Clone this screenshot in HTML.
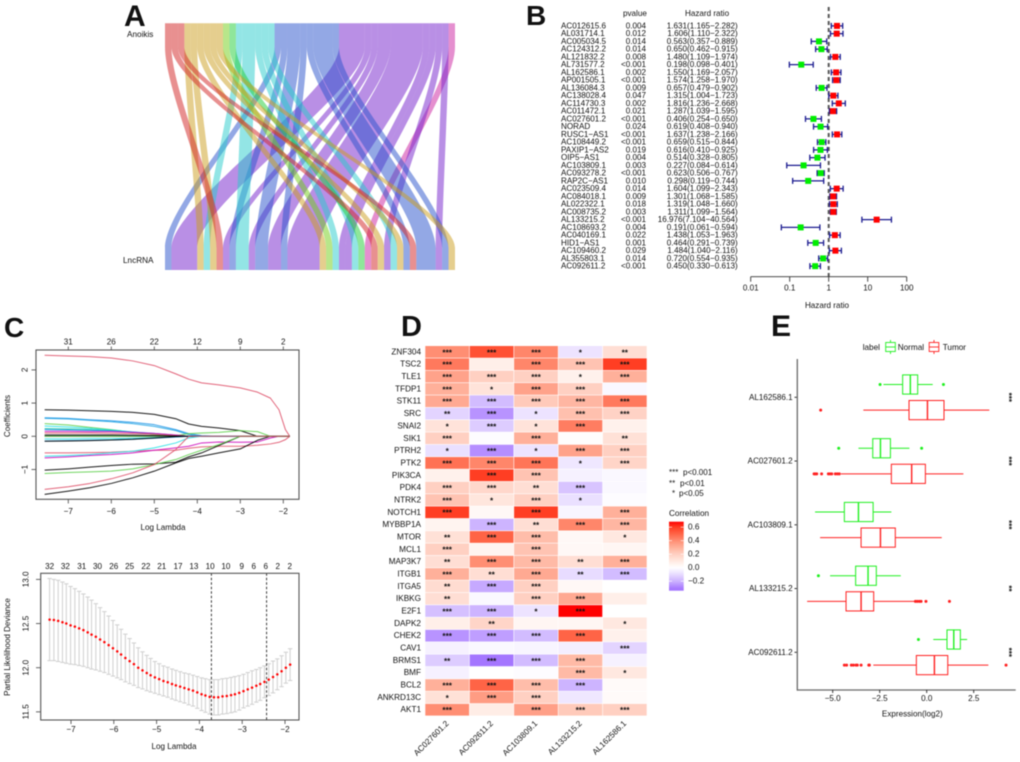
<!DOCTYPE html>
<html lang="en">
<head>
<meta charset="utf-8">
<title>Anoikis lncRNA figure</title>
<style>
html,body{margin:0;padding:0;background:#fff;}
#figure{display:block;width:1020px;height:762px;filter:blur(0.4px);}
text{font-family:"Liberation Sans",sans-serif;fill:#111;}
</style>
</head>
<body>
<svg id="figure" xmlns="http://www.w3.org/2000/svg" width="1020" height="762" viewBox="0 0 1020 762">
  <defs>
    <linearGradient id="corrGradient" x1="0" y1="0" x2="0" y2="1"></linearGradient>
  </defs>
  <rect x="0" y="0" width="1020" height="762" fill="#fff"/>
  <g id="panelA">
    <text x="124" y="26" font-size="30" font-weight="bold" fill="#000">A</text>
    <text x="127" y="37" font-size="8.2">Anoikis</text>
    <text x="123" y="263" font-size="8.2">LncRNA</text>
  </g>
  <g id="panelB">
    <text x="526" y="25" font-size="28" font-weight="bold" fill="#000">B</text>
    <text x="623" y="16" font-size="8.1">pvalue</text>
    <text x="685" y="16" font-size="8.1">Hazard ratio</text>
    <text x="827" y="308" font-size="8.1" text-anchor="middle">Hazard ratio</text>
  </g>
  <g id="panelC1">
    <text x="4" y="337" font-size="28" font-weight="bold" fill="#000">C</text>
    <text x="163" y="530" font-size="8.1" text-anchor="middle">Log Lambda</text>
    <text transform="rotate(-90 10 416)" x="10" y="416" font-size="8.1" text-anchor="middle">Coefficients</text>
  </g>
  <g id="panelC2">
    <text x="174" y="749" font-size="8.1" text-anchor="middle">Log Lambda</text>
    <text transform="rotate(-90 10 647)" x="10" y="647" font-size="8.1" text-anchor="middle">Partial Likelihood Deviance</text>
  </g>
  <g id="panelD">
    <text x="401" y="336" font-size="29" font-weight="bold" fill="#000">D</text>
    <text x="669" y="475" font-size="8">***</text>
    <text x="683" y="475" font-size="8">p&lt;0.001</text>
    <text x="669" y="486" font-size="8">**</text>
    <text x="680" y="486" font-size="8">p&lt;0.01</text>
    <text x="672" y="496" font-size="8">*</text>
    <text x="679" y="496" font-size="8">p&lt;0.05</text>
    <text x="669" y="516" font-size="8.2">Correlation</text>
    <rect x="669" y="521.7" width="14.7" height="69" fill="url(#corrGradient)"/>
  </g>
  <g id="panelE">
    <text x="771" y="336" font-size="30" font-weight="bold" fill="#000">E</text>
    <text x="862.7" y="350" font-size="8.2">label</text>
    <text x="897.7" y="350" font-size="8.2">Normal</text>
    <text x="942.7" y="350" font-size="8.2">Tumor</text>
    <text x="912.3" y="716.5" font-size="8.1" text-anchor="middle">Expression(log2)</text>
  </g>
</svg>
<script>
/* ---------- Panel A data ---------- */
var strataNames = ['salmon','gold','lime','green','cyan','blue','purple','pink'];
var strataFill = ['#D12121','#CB9D1D','#71CD15','#1FCD35','#27CBCB','#2751CB','#731FCB','#CB1F9F'];
var flowStratum = ['blue','purple','gold','cyan','gold','salmon','purple','blue','cyan','purple','blue','purple','blue','purple','gold','lime','cyan','purple','purple','cyan','green','pink','salmon','gold','purple','cyan','gold','blue','salmon','blue','purple','blue','gold'];
var flowUnits = [1,4,1,1,1,1,1,1,2,1,2,2,1,5,1,1,1,1,1,1,1,1,1,1,1,1,1,1,1,3,1,1,1];

/* ---------- Panel B data ---------- */
var forestGenes = ['AC012615.6','AL031714.1','AC005034.5','AC124312.2','AL121832.2','AL731577.2','AL162586.1','AP001505.1','AL136084.3','AC138028.4','AC114730.3','AC011472.1','AC027601.2','NORAD','RUSC1−AS1','AC108449.2','PAXIP1−AS2','OIP5−AS1','AC103809.1','AC093278.2','RAP2C−AS1','AC023509.4','AC084018.1','AL022322.1','AC008735.2','AL133215.2','AC108693.2','AC040169.1','HID1−AS1','AC109460.2','AL355803.1','AC092611.2'];
var forestP = ['0.004','0.012','0.014','0.014','0.008','<0.001','0.002','<0.001','0.009','0.047','0.002','0.021','<0.001','0.024','<0.001','<0.001','0.019','0.004','0.003','<0.001','0.010','0.014','0.009','0.018','0.003','<0.001','0.004','0.022','0.001','0.029','0.014','<0.001'];
var forestHR = [1.631,1.606,0.563,0.650,1.480,0.198,1.550,1.574,0.657,1.315,1.816,1.287,0.406,0.619,1.637,0.659,0.616,0.514,0.227,0.623,0.298,1.604,1.301,1.319,1.311,16.976,0.191,1.438,0.464,1.484,0.720,0.450];
var forestLow = [1.165,1.110,0.357,0.462,1.109,0.098,1.169,1.258,0.479,1.004,1.236,1.039,0.254,0.408,1.238,0.515,0.410,0.328,0.084,0.506,0.119,1.099,1.068,1.048,1.099,7.104,0.061,1.053,0.291,1.040,0.554,0.330];
var forestHigh = [2.282,2.322,0.889,0.915,1.974,0.401,2.057,1.970,0.902,1.723,2.668,1.595,0.650,0.940,2.166,0.844,0.925,0.805,0.614,0.767,0.744,2.343,1.585,1.660,1.564,40.564,0.594,1.963,0.739,2.116,0.935,0.613];
var forestTicks = [0.01,0.1,1,10,100];

/* ---------- Panel C (coefficient paths) data ---------- */
var coefLambda = [-7.55,-7,-6.5,-6,-5.5,-5,-4.5,-4.2,-3.9,-3.5,-3,-2.6,-2.3,-2.1,-1.95,-1.85];
var coefBlackFlat = [0,0,0,0,0,0,0,0,0,0,0,0,0,0,0,0];
var coefRedTop = [2.44,2.42,2.40,2.36,2.27,2.13,1.88,1.72,1.61,1.55,1.46,1.33,1.15,0.8,0.2,0];
var coefBlackTop = [0.8,0.79,0.77,0.75,0.72,0.66,0.53,0.37,0.30,0.25,0.17,0,0,0,0,0];
var coefBlueA = [0.56,0.54,0.5,0.47,0.42,0.35,0.2,0.08,0.02,0,0,0,0,0,0,0];
var coefBlueB = [0.54,0.52,0.48,0.44,0.38,0.3,0.17,0.05,0,0,0,0,0,0,0,0];
var coefGreenA = [0.38,0.34,0.27,0.2,0.12,0.05,0,0,0,0,0,0,0,0,0,0];
var coefGreenB = [0,0,0,0,0,0,0.02,0.08,0.1,0.12,0.17,0.14,0,0,0,0];
var coefCyanA = [0.31,0.28,0.24,0.19,0.13,0.07,0.02,0,0,0,0,0,0,0,0,0];
var coefGreenC = [0.23,0.22,0.2,0.17,0.12,0.08,0.03,0,0,0,0,0,0,0,0,0];
var coefBlueC = [0.2,0.19,0.18,0.16,0.13,0.09,0.03,0,0,0,0,0,0,0,0,0];
var coefMagentaA = [0.15,0.15,0.14,0.14,0.12,0.09,0.04,0,0,0,0,0,0,0,0,0];
var coefRedA = [0.1,0.1,0.1,0.09,0.08,0.06,0.02,0,0,0,0,0,0,0,0,0];
var coefBlackB = [0.04,0.04,0.04,0.04,0.03,0.02,0.01,0,0,0,0,0,0,0,0,0];
var coefCyanB = [-0.08,-0.08,-0.07,-0.07,-0.06,-0.04,-0.02,0,0,0,0,0,0,0,0,0];
var coefBlueD = [-0.14,-0.13,-0.12,-0.11,-0.09,-0.06,-0.02,0,0,0,0,0,0,0,0,0];
var coefBlackC = [-0.15,-0.14,-0.13,-0.11,-0.09,-0.05,-0.01,0,0,0,0,0,0,0,0,0];
var coefRedB = [-0.5,-0.5,-0.49,-0.48,-0.45,-0.42,-0.42,-0.36,-0.32,-0.3,-0.3,-0.27,-0.23,-0.18,-0.1,0];
var coefMagentaB = [-0.65,-0.62,-0.58,-0.55,-0.5,-0.42,-0.35,-0.3,-0.2,-0.17,-0.18,-0.17,-0.05,0,0,0];
var coefCyanC = [-0.6,-0.58,-0.55,-0.5,-0.45,-0.35,-0.2,-0.05,0,0,0,0,0,0,0,0];
var coefBlackD = [-1.02,-0.98,-0.93,-0.88,-0.84,-0.83,-0.78,-0.62,-0.5,-0.28,0,0,0,0,0,0];
var coefBlackE = [-1.75,-1.65,-1.55,-1.42,-1.25,-1.05,-0.8,-0.67,-0.6,-0.5,-0.38,-0.12,0,0,0,0];
var coefGreenD = [-1.12,-1.09,-1.07,-1.05,-0.98,-0.85,-0.7,-0.55,-0.42,-0.25,0,0,0,0,0,0];
var coefRedC = [-1.6,-1.52,-1.42,-1.28,-1.1,-0.85,-0.4,0,0,0,0,0,0,0,0,0];
var coefXTicks = [-7,-6,-5,-4,-3,-2];
var coefYTicks = [2,1,0,-1];
var coefTopLabels = ['31','26','22','12','9','2'];

/* ---------- Panel C (cross-validation) data ---------- */
var cvLambda = [-7.5,-7.40,-7.30,-7.20,-7.11,-7.01,-6.91,-6.81,-6.71,-6.61,-6.52,-6.42,-6.32,-6.22,-6.12,-6.02,-5.92,-5.83,-5.73,-5.63,-5.53,-5.43,-5.33,-5.23,-5.14,-5.04,-4.94,-4.84,-4.74,-4.64,-4.55,-4.45,-4.35,-4.25,-4.15,-4.05,-3.95,-3.86,-3.76,-3.66,-3.56,-3.46,-3.36,-3.26,-3.17,-3.07,-2.97,-2.87,-2.77,-2.67,-2.58,-2.48,-2.38,-2.28,-2.18,-2.08,-1.98,-1.88];
var cvMean = [12.545,12.54,12.53,12.515,12.50,12.48,12.465,12.445,12.425,12.40,12.375,12.35,12.32,12.29,12.255,12.22,12.185,12.15,12.11,12.075,12.04,12.0,11.97,11.94,11.915,11.89,11.87,11.85,11.835,11.815,11.80,11.785,11.77,11.755,11.74,11.72,11.70,11.685,11.67,11.665,11.665,11.675,11.68,11.69,11.70,11.715,11.735,11.755,11.775,11.795,11.815,11.84,11.865,11.895,11.925,11.96,12.0,12.035];
var cvSE = [0.465,0.46,0.46,0.455,0.45,0.44,0.43,0.42,0.41,0.40,0.39,0.375,0.36,0.345,0.33,0.315,0.30,0.285,0.27,0.255,0.24,0.225,0.21,0.20,0.19,0.18,0.175,0.17,0.17,0.17,0.17,0.17,0.17,0.175,0.175,0.18,0.185,0.19,0.195,0.20,0.20,0.20,0.20,0.20,0.20,0.195,0.19,0.19,0.19,0.185,0.185,0.18,0.18,0.18,0.175,0.175,0.175,0.18];
var cvXTicks = [-7,-6,-5,-4,-3,-2];
var cvYTicks = [13.0,12.5,12.0,11.5];
var cvTopLabels = ['32','32','31','30','26','25','22','21','17','13','10','10','9','6','6','2','2'];
var cvTopLambda = [-7.5,-7.13,-6.75,-6.38,-6.0,-5.63,-5.25,-4.88,-4.5,-4.13,-3.75,-3.38,-3.01,-2.73,-2.45,-2.17,-1.89];
var cvLambdaMin = -3.72;
var cvLambda1se = -2.43;

/* ---------- Panel D data ---------- */
var heatGenes = ['ZNF304','TSC2','TLE1','TFDP1','STK11','SRC','SNAI2','SIK1','PTRH2','PTK2','PIK3CA','PDK4','NTRK2','NOTCH1','MYBBP1A','MTOR','MCL1','MAP3K7','ITGB1','ITGA5','IKBKG','E2F1','DAPK2','CHEK2','CAV1','BRMS1','BMF','BCL2','ANKRD13C','AKT1'];
var heatLncs = ['AC027601.2','AC092611.2','AC103809.1','AL133215.2','AL162586.1'];
var heatValues = [
 [0.40,0.55,0.42,-0.08,0.14],
 [0.45,0.07,0.42,0.24,0.60],
 [0.34,0.20,0.20,0.06,0.30],
 [0.30,0.12,0.34,0.20,-0.02],
 [0.32,-0.18,0.22,0.28,0.45],
 [-0.12,-0.26,-0.08,0.25,0.19],
 [0.12,-0.14,0.12,0.44,0.06],
 [0.20,-0.01,0.30,0.01,0.13],
 [-0.09,-0.27,-0.08,0.34,0.20],
 [0.47,0.42,0.46,-0.07,0.18],
 [0.06,0.60,0.24,-0.04,-0.02],
 [0.20,0.17,0.14,-0.16,-0.02],
 [0.24,0.11,0.20,-0.09,-0.01],
 [0.60,0.03,0.60,-0.03,0.30],
 [0.05,-0.20,0.14,0.42,0.28],
 [0.13,0.50,0.26,0.03,0.10],
 [0.20,0.05,0.24,0.03,0.04],
 [0.14,0.40,0.27,0.14,0.30],
 [0.30,0.14,0.32,-0.10,-0.18],
 [0.15,-0.22,0.20,0.03,0.00],
 [0.14,-0.02,0.20,0.32,0.07],
 [-0.17,-0.20,-0.08,0.68,0.00],
 [0.07,0.18,0.04,0.04,0.10],
 [-0.26,-0.24,-0.18,0.50,0.06],
 [-0.04,-0.02,-0.03,-0.05,-0.12],
 [-0.14,-0.33,-0.18,0.27,-0.04],
 [-0.04,0.00,-0.01,0.27,0.10],
 [0.30,0.50,0.26,-0.20,0.02],
 [0.13,0.36,0.20,-0.07,0.02],
 [0.40,0.08,0.35,0.22,0.20]
];
var heatStars = [
 ['***','***','***','*','**'],
 ['***','','***','***','***'],
 ['***','***','***','*','***'],
 ['***','*','***','***',''],
 ['***','***','***','***','***'],
 ['**','***','*','***','***'],
 ['*','***','*','***',''],
 ['***','','***','','**'],
 ['*','***','*','***','***'],
 ['***','***','***','*','***'],
 ['','***','***','',''],
 ['***','***','**','***',''],
 ['***','*','***','*',''],
 ['***','','***','','***'],
 ['','***','**','***','***'],
 ['**','***','***','','*'],
 ['***','','***','',''],
 ['**','***','***','**','***'],
 ['***','**','***','**','***'],
 ['**','***','***','',''],
 ['**','','***','***',''],
 ['***','***','*','***',''],
 ['','**','','','*'],
 ['***','***','***','***',''],
 ['','','','','***'],
 ['**','***','***','***',''],
 ['','','','***','*'],
 ['***','***','***','***',''],
 ['*','***','***','',''],
 ['***','','***','***','***']
];
var corrTicks = [0.6,0.4,0.2,0.0,-0.2];

/* ---------- Panel E data ---------- */
var boxGenes = ['AL162586.1','AC027601.2','AC103809.1','AL133215.2','AC092611.2'];
var boxSig = ['***','***','***','**','***'];
var normalWhiskerLow = [-2.3,-3.63,-5.94,-5.14,0.35];
var normalQ1 = [-1.28,-2.87,-4.38,-3.78,1.08];
var normalMedian = [-0.87,-2.46,-3.63,-3.12,1.44];
var normalQ3 = [-0.48,-1.93,-2.85,-2.68,1.79];
var normalWhiskerHigh = [0.32,-0.92,-1.88,-1.38,2.15];
var normalOutliers = [[-2.48,0.89],[-4.68,-0.27],[],[-5.76],[-0.44]];
var tumorWhiskerLow = [-3.37,-4.56,-5.67,-6.36,-2.84];
var tumorQ1 = [-0.94,-1.88,-3.49,-4.29,-0.55];
var tumorMedian = [0.04,-0.80,-2.46,-3.49,0.41];
var tumorQ3 = [0.92,-0.07,-1.67,-2.82,1.12];
var tumorWhiskerHigh = [3.33,1.95,0.8,-0.67,3.28];
var tumorOutliers = [[-5.64],[-5.99,-5.92,-5.85,-5.59,-5.23,-5.14,-5.05,-4.86,-4.75,-4.65],[],[-0.6,-0.5,-0.39,-0.3,-0.04,1.21],[-4.38,-4.26,-4.01,-3.9,-3.76,-3.69,-3.49,-3.08,-3.05,4.22]];
var boxXTicks = [-5,-2.5,0,2.5];

/* ---------- helpers ---------- */
var NS = 'http://www.w3.org/2000/svg';
function draw(parent, tag, name, attrs) {
  var e = document.createElementNS(NS, tag);
  for (var k in attrs) e.setAttribute(k, attrs[k]);
  
  
  parent.appendChild(e);
  return e;
}
function label(parent, name, x, y, str, size, anchor, rot) {
  var a = {x: x, y: y, 'font-size': size, 'text-anchor': anchor || 'start', 'dominant-baseline': 'central'};
  if (rot) a.transform = 'rotate(' + rot + ' ' + x + ' ' + y + ')';
  var e = draw(parent, 'text', name, a);
  e.textContent = str;
  return e;
}
function line(parent, name, x1, y1, x2, y2, stroke, width, dash) {
  var a = {x1: x1, y1: y1, x2: x2, y2: y2, stroke: stroke, 'stroke-width': width};
  if (dash) a['stroke-dasharray'] = dash;
  return draw(parent, 'line', name, a);
}
function signed(v) { return String(v).replace('-', '−'); }
function byId(id) { return document.getElementById(id); }

/* ---------- Panel A drawing ---------- */
(function () {
  var g = byId('panelA');
  var unitLeft = 165, unitWidth = 290 / 45;
  function ux(u) { return unitLeft + u * unitWidth; }
  var yTop = 23.3, yTopFlow = 47, yBotFlow = 248, yBot = 270;
  var total = {};
  flowStratum.forEach(function (s, i) { total[s] = (total[s] || 0) + flowUnits[i]; });
  var cursor = {}, run = 0;
  strataNames.forEach(function (s) { cursor[s] = run; run += total[s] || 0; });
  var bottom = 0, span = yBotFlow - yTopFlow;
  var c1 = yTopFlow + span * 0.22, c2 = yBotFlow - span * 0.22;
  flowStratum.forEach(function (s, i) {
    var t0 = ux(cursor[s]), t1 = ux(cursor[s] + flowUnits[i]);
    var b0 = ux(bottom), b1 = ux(bottom + flowUnits[i]);
    cursor[s] += flowUnits[i];
    bottom += flowUnits[i];
    var d = 'M' + t0 + ' ' + yTop + 'L' + t0 + ' ' + yTopFlow +
      'C' + t0 + ' ' + c1 + ' ' + b0 + ' ' + c2 + ' ' + b0 + ' ' + yBotFlow +
      'L' + b0 + ' ' + yBot + 'L' + b1 + ' ' + yBot + 'L' + b1 + ' ' + yBotFlow +
      'C' + b1 + ' ' + c2 + ' ' + t1 + ' ' + c1 + ' ' + t1 + ' ' + yTopFlow +
      'L' + t1 + ' ' + yTop + 'Z';
    draw(g, 'path', 'alluvial-flow-' + s, {d: d, fill: strataFill[strataNames.indexOf(s)], 'fill-opacity': 0.5});
  });
})();

/* ---------- Panel B drawing ---------- */
(function () {
  var g = byId('panelB');
  function fx(v) { return 828.7 + Math.log10(v) * 39; }
  function fy(i) { return 25.9 + i * 7.75; }
  line(g, 'hazard-reference-line', fx(1), 7, fx(1), 276.7, '#555', 2, '4 3');
  forestGenes.forEach(function (name, i) {
    var y = fy(i);
    label(g, 'forest-gene-label', 561, y, name, 8.1);
    label(g, 'forest-pvalue', 646, y, forestP[i], 8.1, 'end');
    label(g, 'forest-hr-text', 737.7, y, forestHR[i].toFixed(3) + '(' + forestLow[i].toFixed(3) + '−' + forestHigh[i].toFixed(3) + ')', 8.1, 'end');
    line(g, 'forest-ci-line', fx(forestLow[i]), y, fx(forestHigh[i]), y, '#1b1b8f', 1.3);
    line(g, 'forest-ci-low-cap', fx(forestLow[i]), y - 3, fx(forestLow[i]), y + 3, '#1b1b8f', 1.3);
    line(g, 'forest-ci-high-cap', fx(forestHigh[i]), y - 3, fx(forestHigh[i]), y + 3, '#1b1b8f', 1.3);
    draw(g, 'rect', 'forest-hr-marker', {x: fx(forestHR[i]) - 3, y: y - 3, width: 6, height: 6, fill: forestHR[i] > 1 ? '#ff0000' : '#00ee00'});
  });
  line(g, 'forest-x-axis', fx(0.01), 276.7, fx(100), 276.7, '#333', 0.9);
  forestTicks.forEach(function (t) {
    line(g, 'forest-x-tick', fx(t), 276.7, fx(t), 281.7, '#333', 0.9);
    label(g, 'forest-x-tick-label', fx(t), 288, String(t), 8.1, 'middle');
  });
})();

/* ---------- Panel C coefficient drawing ---------- */
(function () {
  var g = byId('panelC1');
  function cx(v) { return 283.3 + (v + 2) * 43; }
  function cy(v) { return 436.3 - v * 33.2; }
  var plotted = [
    [coefBlackFlat, '#000'], [coefRedTop, '#DF536B'], [coefBlackTop, '#000'], [coefBlueA, '#2297E6'], [coefBlueB, '#28A7E6'],
    [coefGreenA, '#61D04F'], [coefGreenB, '#61D04F'], [coefCyanA, '#28E2E5'], [coefGreenC, '#14C8A0'], [coefBlueC, '#2297E6'],
    [coefMagentaA, '#CD0BBC'], [coefRedA, '#DF536B'], [coefBlackB, '#000'], [coefCyanB, '#28E2E5'], [coefBlueD, '#2297E6'], [coefBlackC, '#000'],
    [coefRedB, '#DF536B'], [coefMagentaB, '#CD0BBC'], [coefCyanC, '#28E2E5'], [coefBlackD, '#000'], [coefBlackE, '#000'], [coefGreenD, '#61D04F'], [coefRedC, '#DF536B']
  ];
  plotted.forEach(function (p) {
    var pts = p[0].map(function (v, i) { return cx(coefLambda[i]) + ',' + cy(v); }).join(' ');
    draw(g, 'polyline', 'coefficient-path', {points: pts, fill: 'none', stroke: p[1], 'stroke-width': 1, 'stroke-linejoin': 'round', 'stroke-opacity': 0.9});
  });
  draw(g, 'rect', 'coef-plot-frame', {x: 36, y: 350, width: 263, height: 149.3, fill: 'none', stroke: '#555', 'stroke-width': 1.1});
  coefXTicks.forEach(function (t, i) {
    line(g, 'coef-x-tick', cx(t), 499.3, cx(t), 503.5, '#555', 0.9);
    label(g, 'coef-x-tick-label', cx(t), 511.7, signed(t), 8.1, 'middle');
    line(g, 'coef-top-tick', cx(t), 350, cx(t), 346.5, '#555', 0.9);
    label(g, 'coef-top-label', cx(t), 342, coefTopLabels[i], 8.1, 'middle');
  });
  coefYTicks.forEach(function (t) {
    line(g, 'coef-y-tick', 36, cy(t), 31.5, cy(t), '#555', 0.9);
    label(g, 'coef-y-tick-label', 25, cy(t), signed(t), 8.1, 'middle', -90);
  });
})();

/* ---------- Panel C CV drawing ---------- */
(function () {
  var g = byId('panelC2');
  function cx(v) { return 285 + (v + 2) * 42.8; }
  function cy(v) { return 667.7 - (v - 12) * 88.3; }
  cvLambda.forEach(function (l, i) {
    var x = cx(l), up = cy(cvMean[i] + cvSE[i]), lo = cy(cvMean[i] - cvSE[i]);
    line(g, 'cv-error-bar', x, up, x, lo, '#cfcfcf', 1);
    line(g, 'cv-error-cap-high', x - 2.2, up, x + 2.2, up, '#cfcfcf', 1);
    line(g, 'cv-error-cap-low', x - 2.2, lo, x + 2.2, lo, '#cfcfcf', 1);
  });
  line(g, 'lambda-min-line', cx(cvLambdaMin), 573.3, cx(cvLambdaMin), 720, '#222', 0.9, '2.5 2');
  line(g, 'lambda-1se-line', cx(cvLambda1se), 573.3, cx(cvLambda1se), 720, '#222', 0.9, '2.5 2');
  cvLambda.forEach(function (l, i) {
    draw(g, 'circle', 'cv-mean-point', {cx: cx(l), cy: cy(cvMean[i]), r: 1.25, fill: '#ff0000'});
  });
  draw(g, 'rect', 'cv-plot-frame', {x: 40.7, y: 573.3, width: 258.3, height: 146.7, fill: 'none', stroke: '#555', 'stroke-width': 1.1});
  cvXTicks.forEach(function (t) {
    line(g, 'cv-x-tick', cx(t), 720, cx(t), 724, '#555', 0.9);
    label(g, 'cv-x-tick-label', cx(t), 729.5, signed(t), 8.1, 'middle');
  });
  cvYTicks.forEach(function (t) {
    line(g, 'cv-y-tick', 40.7, cy(t), 36, cy(t), '#555', 0.9);
    label(g, 'cv-y-tick-label', 26, cy(t), t.toFixed(1), 8.1, 'middle', -90);
  });
  cvTopLabels.forEach(function (s, i) {
    label(g, 'cv-top-label', cx(cvTopLambda[i]), 566.7, s, 8.1, 'middle');
  });
})();

/* ---------- Panel D drawing ---------- */
var corrStops = [
  [-0.40, [150, 100, 255]], [-0.30, [170, 125, 255]], [-0.20, [205, 180, 255]], [-0.10, [232, 220, 255]],
  [0, [255, 255, 255]], [0.10, [255, 232, 224]], [0.20, [255, 208, 194]], [0.30, [255, 176, 154]],
  [0.40, [255, 142, 115]], [0.50, [255, 100, 70]], [0.60, [255, 62, 35]], [0.68, [255, 0, 0]]
];
function corrColor(v) {
  for (var i = 1; i < corrStops.length; i++) {
    if (v <= corrStops[i][0]) {
      var a = corrStops[i - 1], b = corrStops[i];
      var t = Math.max(0, (v - a[0]) / (b[0] - a[0]));
      return 'rgb(' + a[1].map(function (c, k) { return Math.round(c + (b[1][k] - c) * t); }).join(',') + ')';
    }
  }
  return 'rgb(255,0,0)';
}
(function () {
  var g = byId('panelD');
  var left = 425, top = 345.7, cw = 44.4, rh = 12.34;
  heatGenes.forEach(function (gene, r) {
    var y = top + r * rh;
    label(g, 'heatmap-gene-label', 421, y + rh / 2, gene, 8.2, 'end');
    heatValues[r].forEach(function (v, c) {
      var x = left + c * cw;
      draw(g, 'rect', 'heatmap-cell', {x: x + 0.3, y: y + 0.3, width: cw - 0.6, height: rh - 0.6, fill: corrColor(v)});
      if (heatStars[r][c]) {
        var st = draw(g, 'text', 'heatmap-significance', {x: x + cw / 2, y: y + rh / 2 + 3.4, 'font-size': 8.2, 'font-weight': 'bold', 'text-anchor': 'middle'});
        st.textContent = heatStars[r][c];
      }
    });
  });
  heatLncs.forEach(function (name, c) {
    var x = left + (c + 0.5) * cw + 2, y = 724;
    var e = draw(g, 'text', 'heatmap-lncrna-label', {x: x, y: y, 'font-size': 8.2, 'text-anchor': 'end', transform: 'rotate(-45 ' + x + ' ' + y + ')'});
    e.textContent = name;
  });
  var grad = byId('corrGradient');
  var h = 69;
  for (var i = 0; i <= 24; i++) {
    var frac = i / 24, val = 0.68 - frac * h / 67.5;
    var s = document.createElementNS(NS, 'stop');
    s.setAttribute('offset', frac);
    s.setAttribute('stop-color', corrColor(val));
    grad.appendChild(s);
  }
  corrTicks.forEach(function (t) {
    var y = 567.7 - t * 67.5;
    line(g, 'colorbar-tick-left', 669, y, 672, y, '#fff', 0.6);
    line(g, 'colorbar-tick-right', 680.7, y, 683.7, y, '#fff', 0.6);
    label(g, 'colorbar-tick-label', 688, y, signed(t.toFixed(1)), 8.2);
  });
})();

/* ---------- Panel E drawing ---------- */
(function () {
  var g = byId('panelE');
  function bx(v) { return 926.7 + v * 18.8; }
  function by(i) { return 397.3 + i * 63.75; }
  var axis = '#6a6a6a';
  function box(i, off, color, wl, q1, med, q3, wh, outl, tag) {
    var y = by(i) + off, hh = 9.6;
    line(g, tag + '-whisker-low', bx(wl), y, bx(q1), y, color, 1);
    line(g, tag + '-whisker-high', bx(q3), y, bx(wh), y, color, 1);
    draw(g, 'rect', tag + '-box', {x: bx(q1), y: y - hh, width: bx(q3) - bx(q1), height: 2 * hh, fill: '#fff', 'fill-opacity': 0, stroke: color, 'stroke-width': 1});
    line(g, tag + '-median', bx(med), y - hh, bx(med), y + hh, color, 1.4);
    outl.forEach(function (o) {
      draw(g, 'circle', tag + '-outlier', {cx: bx(o), cy: y, r: 1.5, fill: color});
    });
  }
  boxGenes.forEach(function (name, i) {
    box(i, -12.8, '#1ff01f', normalWhiskerLow[i], normalQ1[i], normalMedian[i], normalQ3[i], normalWhiskerHigh[i], normalOutliers[i], 'normal');
    box(i, 12.8, '#ff2020', tumorWhiskerLow[i], tumorQ1[i], tumorMedian[i], tumorQ3[i], tumorWhiskerHigh[i], tumorOutliers[i], 'tumor');
    line(g, 'expression-y-tick', 794.5, by(i), 797.3, by(i), '#222', 0.9);
    label(g, 'expression-gene-label', 792.7, by(i), name, 8.1, 'end');
    var sx = 1006, sy = by(i);
    var st = draw(g, 'text', 'expression-significance', {x: sx, y: sy, 'font-size': 8, 'font-weight': 'bold', 'text-anchor': 'middle', transform: 'rotate(90 ' + sx + ' ' + sy + ')'});
    st.textContent = boxSig[i];
  });
  line(g, 'expression-y-axis', 797.3, 359, 797.3, 690.6, axis, 1.3);
  line(g, 'expression-x-axis', 797, 690, 1015.7, 690, axis, 1.3);
  boxXTicks.forEach(function (t) {
    line(g, 'expression-x-tick', bx(t), 690, bx(t), 693, '#222', 0.9);
    label(g, 'expression-x-tick-label', bx(t), 698.3, signed(t.toFixed(1)), 8.1, 'middle');
  });
  function key(x, color, tag) {
    line(g, tag + '-key-whisker', x + 4.8, 340, x + 4.8, 354, color, 0.9);
    draw(g, 'rect', tag + '-key-box', {x: x, y: 342.5, width: 9.6, height: 9, fill: '#fff', stroke: color, 'stroke-width': 0.9});
    line(g, tag + '-key-median', x, 347, x + 9.6, 347, color, 0.9);
  }
  key(885.7, '#1ff01f', 'normal');
  key(929.2, '#ff2020', 'tumor');
})();
</script>
</body>
</html>
